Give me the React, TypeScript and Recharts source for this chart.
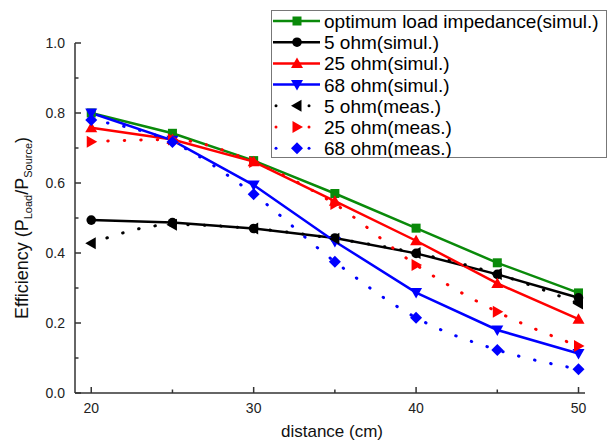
import { LineChart, Line, XAxis, YAxis, Legend } from 'recharts';

const distance = [20, 25, 30, 35, 40, 45, 50];
const optimumSim = [0.80, 0.742, 0.664, 0.570, 0.471, 0.372, 0.286];
const ohm5Sim = [0.494, 0.487, 0.470, 0.443, 0.399, 0.339, 0.272];
const ohm25Sim = [0.758, 0.724, 0.661, 0.548, 0.435, 0.313, 0.211];
const ohm68Sim = [0.80, 0.722, 0.594, 0.433, 0.287, 0.180, 0.113];
const ohm5Meas = [0.428, 0.481, 0.470, 0.441, 0.400, 0.340, 0.256];
const ohm25Meas = [0.718, 0.724, 0.660, 0.540, 0.366, 0.232, 0.134];
const ohm68Meas = [0.780, 0.717, 0.568, 0.375, 0.215, 0.123, 0.068];

const xTicks = [20, 25, 30, 35, 40, 45, 50];
const xLabels = [20, 30, 40, 50];
const yTicks = [0, 0.1, 0.2, 0.3, 0.4, 0.5, 0.6, 0.7, 0.8, 0.9, 1.0];
const yLabels = [0, 0.2, 0.4, 0.6, 0.8, 1.0];

const chartData = distance.map((d, i) => ({
  d,
  optimumSim: optimumSim[i],
  ohm5Sim: ohm5Sim[i],
  ohm25Sim: ohm25Sim[i],
  ohm68Sim: ohm68Sim[i],
  ohm5Meas: ohm5Meas[i],
  ohm25Meas: ohm25Meas[i],
  ohm68Meas: ohm68Meas[i],
}));

const GREEN = '#0a8a0a';
const AXIS = '#333333';
const FONT = 'Arial, "Liberation Sans", sans-serif';

type Shape = 'square' | 'circle' | 'up' | 'down' | 'left' | 'right' | 'diamond';

function marker(shape: Shape, cx: number, cy: number, color: string, key?: string) {
  switch (shape) {
    case 'square':
      return <rect key={key} x={cx - 4.5} y={cy - 4.5} width={9} height={9} fill={color} />;
    case 'circle':
      return <circle key={key} cx={cx} cy={cy} r={4.8} fill={color} />;
    case 'up':
      return <polygon key={key} points={`${cx},${cy - 6} ${cx - 6},${cy + 4.5} ${cx + 6},${cy + 4.5}`} fill={color} />;
    case 'down':
      return <polygon key={key} points={`${cx},${cy + 6} ${cx - 6},${cy - 4.5} ${cx + 6},${cy - 4.5}`} fill={color} />;
    case 'left':
      return <polygon key={key} points={`${cx - 6},${cy} ${cx + 4.5},${cy - 6} ${cx + 4.5},${cy + 6}`} fill={color} />;
    case 'right':
      return <polygon key={key} points={`${cx + 6},${cy} ${cx - 4.5},${cy - 6} ${cx - 4.5},${cy + 6}`} fill={color} />;
    default:
      return <polygon key={key} points={`${cx},${cy - 6} ${cx + 6},${cy} ${cx},${cy + 6} ${cx - 6},${cy}`} fill={color} />;
  }
}

const dotFor = (shape: Shape, color: string) => (props: any) =>
  marker(shape, props.cx, props.cy, color, `${shape}-${props.index}`);

const series = [
  { key: 'optimumSim', name: 'optimum load impedance(simul.)', color: GREEN, shape: 'square' as Shape, meas: false },
  { key: 'ohm5Sim', name: '5 ohm(simul.)', color: '#000000', shape: 'circle' as Shape, meas: false },
  { key: 'ohm25Sim', name: '25 ohm(simul.)', color: '#ff0000', shape: 'up' as Shape, meas: false },
  { key: 'ohm68Sim', name: '68 ohm(simul.)', color: '#0000ff', shape: 'down' as Shape, meas: false },
  { key: 'ohm5Meas', name: '5 ohm(meas.)', color: '#000000', shape: 'left' as Shape, meas: true },
  { key: 'ohm25Meas', name: '25 ohm(meas.)', color: '#ff0000', shape: 'right' as Shape, meas: true },
  { key: 'ohm68Meas', name: '68 ohm(meas.)', color: '#0000ff', shape: 'diamond' as Shape, meas: true },
];

function XTick(props: any) {
  const { x, y, payload } = props;
  const major = xLabels.includes(payload.value);
  return (
    <g>
      <line x1={x} y1={y} x2={x} y2={y - (major ? 6 : 3.5)} stroke={AXIS} strokeWidth={1.5} />
      {major && (
        <text x={x} y={y + 20} textAnchor="middle" fontSize={14} fontFamily={FONT} fill="#222">
          {payload.value}
        </text>
      )}
    </g>
  );
}

function YTick(props: any) {
  const { x, y, payload } = props;
  const major = yLabels.some((v) => Math.abs(v - payload.value) < 1e-6);
  return (
    <g>
      <line x1={x} y1={y} x2={x + (major ? 6 : 3.5)} y2={y} stroke={AXIS} strokeWidth={1.5} />
      {major && (
        <text x={x - 10} y={y + 5} textAnchor="end" fontSize={14} fontFamily={FONT} fill="#222">
          {payload.value.toFixed(1)}
        </text>
      )}
    </g>
  );
}

function YLabel(props: any) {
  const vb = props.viewBox || { x: 30, y: 43, width: 45, height: 350 };
  const cx = 28;
  const cy = vb.y + vb.height / 2 + 10;
  return (
    <text
      x={cx}
      y={cy}
      transform={`rotate(-90 ${cx} ${cy})`}
      textAnchor="middle"
      fontSize={18}
      fontFamily={FONT}
      fill="#111"
    >
      Efficiency (P
      <tspan fontSize={11} dy={4}>Load</tspan>
      <tspan dy={-4}>/P</tspan>
      <tspan fontSize={11} dy={4}>Source</tspan>
      <tspan dy={-4}>)</tspan>
    </text>
  );
}

function XLabel(props: any) {
  const vb = props.viewBox || { x: 75, y: 393, width: 510, height: 30 };
  return (
    <text x={vb.x + vb.width / 2 + 2} y={437} textAnchor="middle" fontSize={17} fontFamily={FONT} fill="#111">
      distance (cm)
    </text>
  );
}

function LegendBox() {
  const rowH = 21.2;
  return (
    <svg width={336} height={148} style={{ display: 'block' }}>
      <rect x={0.5} y={0.5} width={335} height={147} fill="#fff" stroke="#777" strokeWidth={1} />
      {series.map((s, i) => {
        const cy = 11 + i * rowH;
        return (
          <g key={s.key}>
            {s.meas ? (
              <g>
                <circle cx={5} cy={cy} r={1.5} fill={s.color} />
                <circle cx={38} cy={cy} r={1.5} fill={s.color} />
              </g>
            ) : (
              <line x1={2} y1={cy} x2={49} y2={cy} stroke={s.color} strokeWidth={2.5} />
            )}
            {marker(s.shape, 26, cy, s.color)}
            <text x={53} y={cy + 7} fontSize={19} fontFamily={FONT} fill="#000">
              {s.name}
            </text>
          </g>
        );
      })}
    </svg>
  );
}

export default function App() {
  return (
    <div style={{ position: 'absolute', left: 0, top: 0, width: 612, height: 443, background: '#fff' }}>
      <LineChart width={612} height={443} data={chartData} margin={{ top: 43, right: 27, left: 30, bottom: 20 }}>
        <XAxis
          dataKey="d"
          type="number"
          domain={[19, 50.4]}
          ticks={xTicks}
          interval={0}
          tickSize={0}
          tickMargin={0}
          tick={<XTick />}
          stroke={AXIS}
          strokeWidth={1.5}
          height={30}
          label={<XLabel />}
        />
        <YAxis
          type="number"
          domain={[0, 1]}
          ticks={yTicks}
          interval={0}
          tickSize={0}
          tickMargin={0}
          tick={<YTick />}
          stroke={AXIS}
          strokeWidth={1.5}
          width={45}
          label={<YLabel />}
        />
        {series.map((s) => (
          <Line
            key={s.key}
            dataKey={s.key}
            name={s.name}
            type={s.meas ? 'monotone' : 'linear'}
            stroke={s.color}
            strokeWidth={s.meas ? 3 : 2.5}
            strokeDasharray={s.meas ? '0.5 16' : undefined}
            strokeLinecap={s.meas ? 'round' : 'butt'}
            dot={dotFor(s.shape, s.color)}
            activeDot={false}
            isAnimationActive={false}
          />
        ))}
        <Legend
          content={<LegendBox />}
          layout="vertical"
          align="center"
          verticalAlign="middle"
          wrapperStyle={{ position: 'absolute', left: 271, top: 10, width: 336, height: 148 }}
        />
      </LineChart>
    </div>
  );
}
